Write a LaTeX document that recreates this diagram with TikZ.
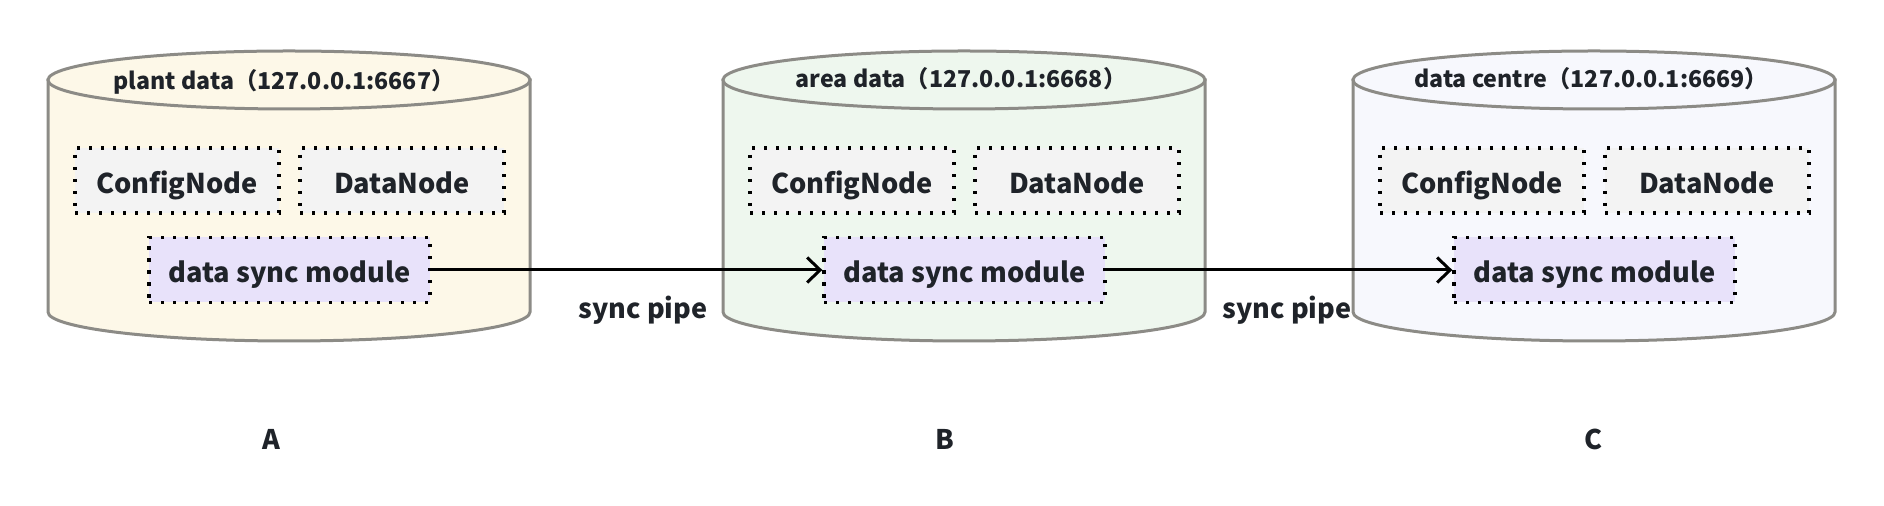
\documentclass[tikz,border=0pt]{standalone}
\usepackage{fontspec}
\setmainfont{Noto Sans CJK SC}
\usetikzlibrary{arrows.meta}
\definecolor{txt}{HTML}{1F2329}
\definecolor{cyledge}{HTML}{8C8B86}
\definecolor{fillA}{HTML}{FDF8E8}
\definecolor{fillB}{HTML}{EEF7EE}
\definecolor{fillC}{HTML}{F7F8FD}
\definecolor{boxgrey}{HTML}{F3F3F3}
\definecolor{lav}{HTML}{E8E2FA}
\tikzset{
  cyl/.style={draw=cyledge, line width=1.5pt},
  comp/.style={draw=black, line width=1.7pt, dash pattern=on 1.7pt off 4.3pt, fill=boxgrey,
    minimum width=102pt, minimum height=32.5pt, inner sep=0pt, text height=12.6pt, text depth=0pt,
    font=\bfseries\fontsize{13.6}{16}\selectfont, text=txt},
  syncm/.style={comp, fill=lav, minimum width=140.5pt},
  ttl/.style={font=\bfseries\fontsize{11.6}{14}\selectfont, text=txt, inner sep=0pt, text height=8.5pt, text depth=0pt},
  lbl/.style={font=\bfseries\fontsize{13.5}{16}\selectfont, text=txt, inner sep=0pt},
  flow/.style={draw=black, line width=1.5pt, -{Straight Barb[length=6.5pt,width=12.5pt,line width=1.5pt]}}
}
\newcommand{\drawcyl}[2]{%
  \path[cyl, fill=#2] (#1-241,80) -- (#1-241,312) arc[start angle=180, end angle=0, x radius=241, y radius=29] -- (#1+241,80) -- cycle;
  \path[cyl, fill=#2] (#1,80) ellipse[x radius=241, y radius=29];
}
\begin{document}
\begin{tikzpicture}[x=0.5pt,y=-0.5pt]
\useasboundingbox (0,0) rectangle (1884,506);
\drawcyl{289}{fillA}
\drawcyl{964}{fillB}
\drawcyl{1594}{fillC}
\node[ttl] (tA) at (284,81) {plant data（127.0.0.1:6667）};
\node[ttl] (tB) at (961,79) {area data（127.0.0.1:6668）};
\node[ttl] (tC) at (1591,79) {data centre（127.0.0.1:6669）};
\foreach \c/\n in {289/A,964/B,1594/C}{
  \node[comp] (cfg\n) at (\c-112,180.5) {ConfigNode};
  \node[comp] (dn\n) at (\c+113,180.5) {DataNode};
  \node[syncm] (sm\n) at (\c+0.5,270) {data sync module};
}
\draw[flow] (smA.east) -- (smB.west);
\draw[flow] (smB.east) -- (smC.west);
\node[lbl] (sp1) at (643,310) {sync pipe};
\node[lbl] (sp2) at (1287,310) {sync pipe};
\node[lbl] (lA) at (271,439) {A};
\node[lbl] (lB) at (945,439) {B};
\node[lbl] (lC) at (1593,439) {C};
\end{tikzpicture}
\end{document}
